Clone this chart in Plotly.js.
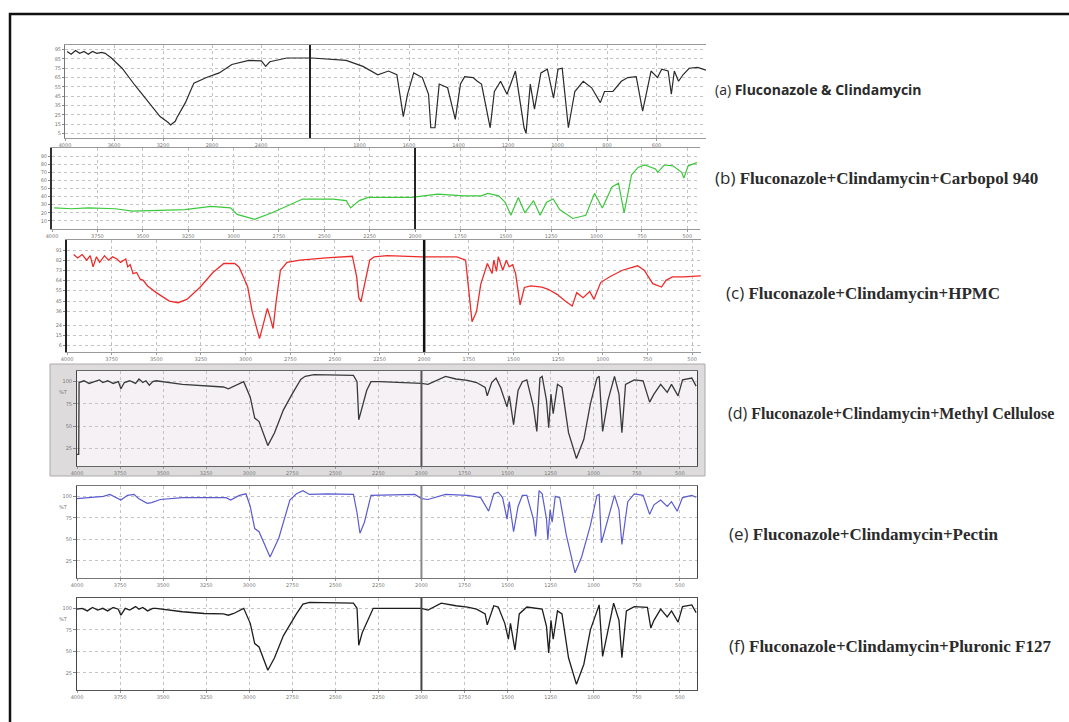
<!DOCTYPE html>
<html>
<head>
<meta charset="utf-8">
<script src="https://cdn.plot.ly/plotly-3.0.1.min.js"></script>
<style>html,body{margin:0;padding:0;background:#fff;}#chart{width:1069px;height:722px;}</style>
</head>
<body>
<div id="chart"></div>
<script>
// ---------- DATA (wavenumber cm-1, transmittance in each panel's own scale) ----------
const aLeftWn = [3983,3950,3914,3880,3845,3810,3776,3740,3700,3672,3621,3534,3431,3328,3224,3160,3138,3100,3086,3017,2948,2845,2741,2638,2500,2397,2362,2328,2190,2000];
const aLeftT  = [93,90,94,91,93,90,93,91,92,91,86,75,57,40,23,17,14,18,22,38,59,65,70,79,83.5,83,77,82,86,86];
const aRightWn = [2000,1991,1854,1786,1726,1683,1649,1623,1606,1581,1546,1521,1512,1495,1478,1444,1413,1392,1375,1341,1324,1307,1272,1255,1230,1204,1170,1135,1127,1110,1093,1067,1041,1016,998,981,956,930,896,862,827,810,776,742,716,682,656,639,622,596,579,553,540,528,511,493,468,434,400];
const aRightT  = [86,86,83.5,77,68,72,68,23,47,70,65,47,11,11,58,54,20,58,66,65,61,58,11,50,61,47,72,11,5,58,31,70,74,43,74,75,11,50,61,54,38,50,50,61,65,66,29,50,72,65,74,72,47,72,61,68,75,76,73];

const bWn = [3988,3892,3800,3652,3556,3412,3268,3124,3016,2980,2884,2788,2691,2619,2451,2379,2355,2307,2259,2019,1875,1731,1635,1599,1539,1503,1472,1431,1395,1347,1311,1275,1239,1203,1131,1059,1011,968,915,879,848,807,771,735,675,663,627,579,531,519,495,447];
const bT  = [26,25,26,25,22,23,24,28,26,18,12,20,30,37,37,35,26,35,39,39,43,41,41,44,41,33,17,39,20,35,17,33,37,24,13,17,44,26,52,56.5,20,67,76,79,74,70,79,78,70,63,78,82];

const cWn = [3963,3940,3915,3890,3870,3854,3835,3817,3790,3768,3745,3720,3700,3671,3660,3646,3630,3610,3590,3573,3549,3500,3427,3378,3329,3256,3183,3122,3061,3037,3012,2988,2963,2939,2922,2902,2878,2861,2846,2829,2805,2768,2695,2549,2402,2378,2366,2354,2329,2305,2280,2207,2012,1817,1768,1744,1732,1707,1683,1646,1620,1610,1595,1585,1560,1540,1524,1505,1488,1463,1439,1402,1341,1305,1256,1207,1171,1146,1110,1073,1049,1012,963,890,805,768,720,671,646,610,549,451];
const cT  = [87,84,87,82,86,76,85,80,86,82,85,83,80,83,76,78,70,71,65,64,59,53,45.5,44,47,57.6,71,79,79,76,67,58,36,21,12,24,39,30,21,45,73,80,82,84,85.5,67,48.5,45,64,82,85,86,85,85,82,45,27,36,60.6,79,70,82,72,85,73,82,76,78,70,42,57.6,59,58,56,51.5,45,41,53,48.5,54,47,62,67,73,77,73,61,58,64,67,67,68];

const dWn = [4000,3990,3988,3960,3930,3898,3870,3850,3822,3790,3760,3745,3725,3694,3660,3640,3618,3600,3580,3560,3541,3388,3261,3150,3121,3090,3057,3032,2994,2968,2943,2892,2853,2802,2751,2701,2675,2624,2395,2374,2364,2344,2318,2293,2242,2000,1962,1860,1800,1732,1680,1630,1618,1592,1567,1541,1503,1490,1465,1439,1414,1388,1350,1330,1312,1299,1274,1261,1248,1235,1210,1184,1146,1100,1057,1019,981,968,948,917,879,853,836,815,764,713,675,650,611,573,548,510,484,430,405];
const dT  = [18,18,99,101,98,100,102,99,101,98,100,92,99,101,98,103,99,101,96,100,101,97,95,94,92,95,98,100,82.5,59,55,28,42.5,68,86,102.5,106,108,107,100,57,71.6,90,100,100,98,97,106,103,101.5,99,93.5,84,99,104,93.5,71.6,84,51.6,90,100,102,71.6,44,104,106,79,48,86,64,97,93.5,42.5,13.5,35,75,104,106,44,79,106,86,42.5,97,102,101,77,86,97,88,97,84,102,104,95];

const eWn = [4000,3900,3847,3809,3780,3745,3707,3669,3643,3592,3567,3516,3388,3134,3108,3057,3019,2994,2968,2943,2879,2828,2764,2726,2688,2650,2548,2395,2374,2357,2331,2293,2038,2000,1962,1860,1732,1656,1610,1580,1554,1529,1503,1490,1465,1439,1414,1388,1350,1337,1317,1299,1274,1266,1253,1241,1223,1197,1159,1108,1070,1019,981,968,955,917,879,853,836,802,764,713,675,650,611,573,548,515,484,430,405];
const eT  = [97.4,99,100,102.2,99,95.6,101.1,102.2,97.4,91.9,92.6,96.3,98.5,98.5,95.6,101.1,102.9,88.2,62.5,58.8,29.4,51.5,95.6,102.9,106.6,102.2,102.9,102.2,80.9,57,69.9,101.1,102.2,97.4,96.3,102.2,101.1,98.5,82.7,102.9,104.8,98.5,73.5,93.8,58.8,88.2,101.1,101.1,73.5,53.3,106.6,102.9,73.5,49.6,84.6,69.9,100,98.5,55.1,11,29.4,66.2,101.1,102.2,46,73.5,101.1,84.6,44,93.8,102.9,101.1,79,90.1,95.6,88.2,93.8,82.7,98.5,101.1,99];

const fWn = [4000,3970,3940,3910,3880,3850,3822,3790,3760,3745,3720,3694,3660,3640,3618,3590,3560,3541,3388,3261,3150,3121,3090,3057,3032,2994,2968,2943,2892,2853,2802,2726,2688,2650,2395,2374,2364,2344,2280,2000,1962,1885,1800,1732,1680,1630,1618,1580,1554,1516,1495,1483,1457,1432,1388,1299,1274,1261,1248,1235,1210,1184,1146,1100,1057,1019,968,948,917,884,853,836,810,764,688,668,650,611,573,548,510,484,430,405];
const fT  = [99,100,97,101,98,100,97,101,99,92,100,98,102,99,101,97,100,100,96,94,93.5,92,94,97,100,82.5,59,55,28,42.5,68,93.5,105,107,106,100,57,71.6,100,100,98,106,103,101.5,99,93.5,80.7,103,101.5,82.5,64,82.5,51.6,93.5,101.5,99,79,48,86,64,97,93.5,42.5,11.6,35,75,104,44,75,106,86,42.5,97,102,101,77,86,99,90,97,84,102,104,95];

const labels = [
  ["(a)", "Fluconazole & Clindamycin"],
  ["(b)", "Fluconazole+Clindamycin+Carbopol 940"],
  ["(c)", "Fluconazole+Clindamycin+HPMC"],
  ["(d)", "Fluconazole+Clindamycin+Methyl Cellulose"],
  ["(e)", "Fluconazole+Clindamycin+Pectin"],
  ["(f)", "Fluconazole+Clindamycin+Pluronic F127"]
];
const wnTicks = [4000,3750,3500,3250,3000,2750,2500,2250,2000,1750,1500,1250,1000,750,500];
const tTicks = [100,75,50,25];

// ---------- LAYOUT HELPERS ----------
const W = 1069, H = 722;
const px = v => v / W;
const py = v => 1 - v / H;
const tickFont = {family: "DejaVu Sans", size: 5, color: "#777"};

function xAx(x0, x1, range, anchor, opts) {
  return Object.assign({
    domain: [px(x0), px(x1)], range: range, anchor: anchor,
    showgrid: true, gridcolor: "#c4c4c4", griddash: "dot", gridwidth: 1,
    zeroline: false, showline: true, linecolor: "#999", linewidth: 1, mirror: true,
    ticks: "outside", ticklen: 2, tickcolor: "#999", tickfont: tickFont
  }, opts || {});
}
function yAx(y0, y1, range, anchor, opts) {
  return Object.assign({
    domain: [py(y1), py(y0)], range: range, anchor: anchor,
    showgrid: true, gridcolor: "#c4c4c4", griddash: "dot", gridwidth: 1,
    zeroline: false, showline: true, linecolor: "#777", linewidth: 1, mirror: true,
    ticks: "outside", ticklen: 2, tickcolor: "#888", tickfont: tickFont
  }, opts || {});
}

const traces = [
  {x: aLeftWn, y: aLeftT, xaxis: "x", yaxis: "y", line: {color: "#2a2a2a", width: 1.2}},
  {x: aRightWn, y: aRightT, xaxis: "x2", yaxis: "y", line: {color: "#2a2a2a", width: 1.2}},
  {x: bWn, y: bT, xaxis: "x3", yaxis: "y2", line: {color: "#3cc83c", width: 1.2}},
  {x: cWn, y: cT, xaxis: "x4", yaxis: "y3", line: {color: "#ee2b2b", width: 1.3}},
  {x: dWn, y: dT, xaxis: "x5", yaxis: "y4", line: {color: "#3a3a3a", width: 1.3}},
  {x: eWn, y: eT, xaxis: "x6", yaxis: "y5", line: {color: "#5b5bd0", width: 1.2}},
  {x: fWn, y: fT, xaxis: "x7", yaxis: "y6", line: {color: "#1e1e1e", width: 1.3}}
].map(t => Object.assign({type: "scatter", mode: "lines", hoverinfo: "skip"}, t));

const dfeX = {tickvals: wnTicks, ticktext: wnTicks.map(String)};
const dfeY = {tickvals: tTicks, ticktext: tTicks.map(String), showline: true, linecolor: "#444", ticks: "outside", ticklen: 3};

const layout = {
  width: W, height: H, margin: {l: 0, r: 0, t: 0, b: 0},
  paper_bgcolor: "#ffffff", plot_bgcolor: "rgba(0,0,0,0)", showlegend: false,
  // (a) split axis: 4000-2000 compressed, 2000-400 expanded
  xaxis:  xAx(65, 310, [4000, 2000], "y", {tickvals: [4000,3600,3200,2800,2400], showline: true}),
  xaxis2: xAx(310, 706, [2000, 400], "y", {tickvals: [1800,1600,1400,1200,1000,800,600]}),
  yaxis:  yAx(45, 138, [0, 100], "x", {tickvals: [5,15,25,35,45,55,65,75,85,95], mirror: false}),
  // (b)
  xaxis3: xAx(52, 700, [4000, 430], "y2", {tickvals: wnTicks}),
  yaxis2: yAx(148, 229, [0, 100], "x3", {tickvals: [10,20,30,40,50,60,70,80,90], linewidth: 2, linecolor: "#333", mirror: false}),
  // (c)
  xaxis4: xAx(67, 701, [4000, 450], "y3", {tickvals: wnTicks}),
  yaxis3: yAx(240, 352, [0, 100], "x4", {tickvals: [6,15,24,36,45,55,64,73,82,91], linewidth: 2, linecolor: "#222", mirror: false}),
  // (d)
  xaxis5: xAx(77, 697, [4000, 400], "y4", Object.assign({linecolor: "#666"}, dfeX)),
  yaxis4: yAx(371, 466, [5, 112], "x5", dfeY),
  // (e)
  xaxis6: xAx(77, 697, [4000, 400], "y5", Object.assign({linecolor: "#777"}, dfeX)),
  yaxis5: yAx(486, 578, [5, 112], "x6", dfeY),
  // (f)
  xaxis7: xAx(77, 697, [4000, 400], "y6", Object.assign({linecolor: "#555"}, dfeX)),
  yaxis6: yAx(598, 690, [5, 112], "x7", dfeY),
  shapes: [
    // outer frame
    {type: "rect", xref: "paper", yref: "paper", x0: px(10), x1: px(1080), y0: py(735), y1: py(14), line: {color: "#111", width: 2.5}},
    // (d) grey instrument frame + tinted plot area
    {type: "rect", xref: "paper", yref: "paper", x0: px(50), x1: px(705), y0: py(476), y1: py(364), fillcolor: "#dedbdd", line: {color: "#aaa", width: 1}, layer: "below"},
    {type: "rect", xref: "x5 domain", yref: "y4 domain", x0: 0, x1: 1, y0: 0, y1: 1, fillcolor: "#f5f1f4", line: {width: 0}, layer: "below"},
    // 2000 cm-1 divider lines
    {type: "line", xref: "x2 domain", yref: "y domain", x0: 0, x1: 0, y0: 0, y1: 1, line: {color: "#222", width: 2}},
    {type: "line", xref: "x3", yref: "y2 domain", x0: 2000, x1: 2000, y0: 0, y1: 1, line: {color: "#222", width: 2}},
    {type: "line", xref: "x4", yref: "y3 domain", x0: 2000, x1: 2000, y0: 0, y1: 1, line: {color: "#111", width: 2.5}},
    {type: "line", xref: "x5", yref: "y4 domain", x0: 2000, x1: 2000, y0: 0, y1: 1, line: {color: "#555", width: 2}},
    {type: "line", xref: "x6", yref: "y5 domain", x0: 2000, x1: 2000, y0: 0, y1: 1, line: {color: "#888", width: 2}},
    {type: "line", xref: "x7", yref: "y6 domain", x0: 2000, x1: 2000, y0: 0, y1: 1, line: {color: "#444", width: 2}}
  ],
  annotations: []
};

// "%T" unit labels for (d)-(f)
[["x5 domain","y4"],["x6 domain","y5"],["x7 domain","y6"]].forEach(([xr, yr]) => {
  layout.annotations.push({xref: xr, yref: yr, x: -0.012, y: 88, xanchor: "right", yanchor: "middle",
    text: "%T", showarrow: false, font: {family: "DejaVu Sans", size: 5, color: "#777"}});
});

// sample labels on the right
const labelPos = [[713, 89], [713, 177], [724, 292], [726, 413], [727, 533], [727, 645]];
const labelSize = [14, 17, 17, 16, 17, 17];
labels.forEach((lab, i) => {
  const first = i === 0;
  layout.annotations.push({
    xref: "paper", yref: "paper", x: px(labelPos[i][0]), y: py(labelPos[i][1]),
    xanchor: "left", yanchor: "middle", showarrow: false, align: "left",
    text: `<span style="font-family:'Open Sans';font-weight:normal">${lab[0]}</span> <b>${lab[1]}</b>`,
    font: {family: first ? "Open Sans" : "Liberation Serif", size: labelSize[i], color: "#2b2b2b"}
  });
});

Plotly.newPlot("chart", traces, layout, {staticPlot: true, displayModeBar: false});
</script>
</body>
</html>
